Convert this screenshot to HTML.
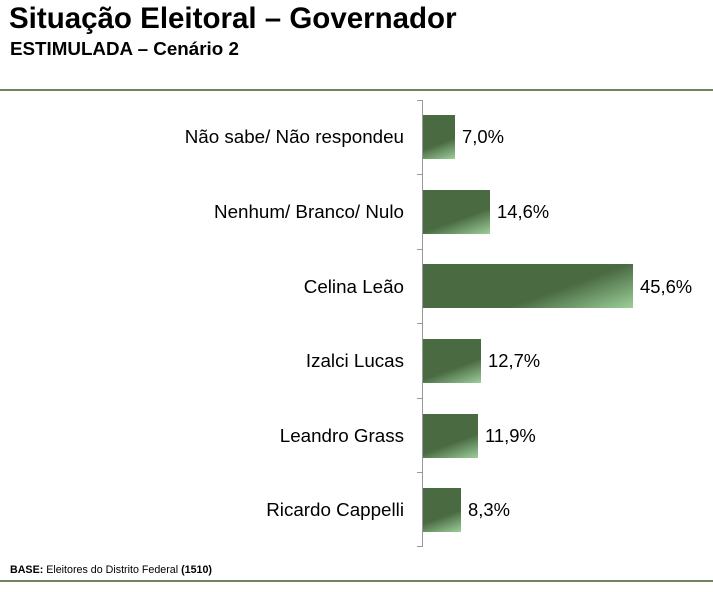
<!DOCTYPE html>
<html><head><meta charset="utf-8"><style>
body{margin:0;width:713px;height:592px;background:#fff;font-family:"Liberation Sans",Arial,sans-serif;position:relative;overflow:hidden}
.t{position:absolute;left:9px;top:2px;font-size:29.5px;font-weight:bold;color:#000}
.s{position:absolute;left:10px;top:38px;font-size:18.8px;font-weight:bold}
.hr{position:absolute;left:0;width:713px;height:2px;background:#6f8560}
.lab{position:absolute;right:309px;font-size:18.8px;color:#000;white-space:nowrap;transform:translateY(-50%)}
.val{position:absolute;font-size:18.4px;transform:translateY(-50%)}
.bar{position:absolute;left:423px;height:44px;background:linear-gradient(160deg,#4a6a42 0%,#4a6a42 62%,#9ccf9a 100%)}
.ax{position:absolute;left:422px;top:100px;width:1px;height:447px;background:#999}
.tk{position:absolute;left:417px;width:5px;height:1px;background:#999}
.b{position:absolute;left:10px;top:564px;font-size:10.7px}
</style></head><body>
<div class="t">Situação Eleitoral – Governador</div>
<div class="s">ESTIMULADA – Cenário 2</div>
<div class="hr" style="top:89px"></div>
<div class="ax"></div>
<div class="tk" style="top:100px"></div><div class="tk" style="top:174px"></div><div class="tk" style="top:249px"></div><div class="tk" style="top:323px"></div><div class="tk" style="top:398px"></div><div class="tk" style="top:472px"></div><div class="tk" style="top:546px"></div>
<div class="lab" style="top:137px">Não sabe/ Não respondeu</div>
<div class="bar" style="top:115px;width:32px"></div><div class="val" style="top:137px;left:462px">7,0%</div>
<div class="lab" style="top:212px">Nenhum/ Branco/ Nulo</div>
<div class="bar" style="top:190px;width:67px"></div><div class="val" style="top:212px;left:497px">14,6%</div>
<div class="lab" style="top:287px">Celina Leão</div>
<div class="bar" style="top:264px;width:210px"></div><div class="val" style="top:287px;left:640px">45,6%</div>
<div class="lab" style="top:361px">Izalci Lucas</div>
<div class="bar" style="top:339px;width:58px"></div><div class="val" style="top:361px;left:488px">12,7%</div>
<div class="lab" style="top:436px">Leandro Grass</div>
<div class="bar" style="top:414px;width:55px"></div><div class="val" style="top:436px;left:485px">11,9%</div>
<div class="lab" style="top:510px">Ricardo Cappelli</div>
<div class="bar" style="top:488px;width:38px"></div><div class="val" style="top:510px;left:468px">8,3%</div>
<div class="b"><b>BASE:</b> Eleitores do Distrito Federal <b>(1510)</b></div>
<div class="hr" style="top:580px"></div>
</body></html>
